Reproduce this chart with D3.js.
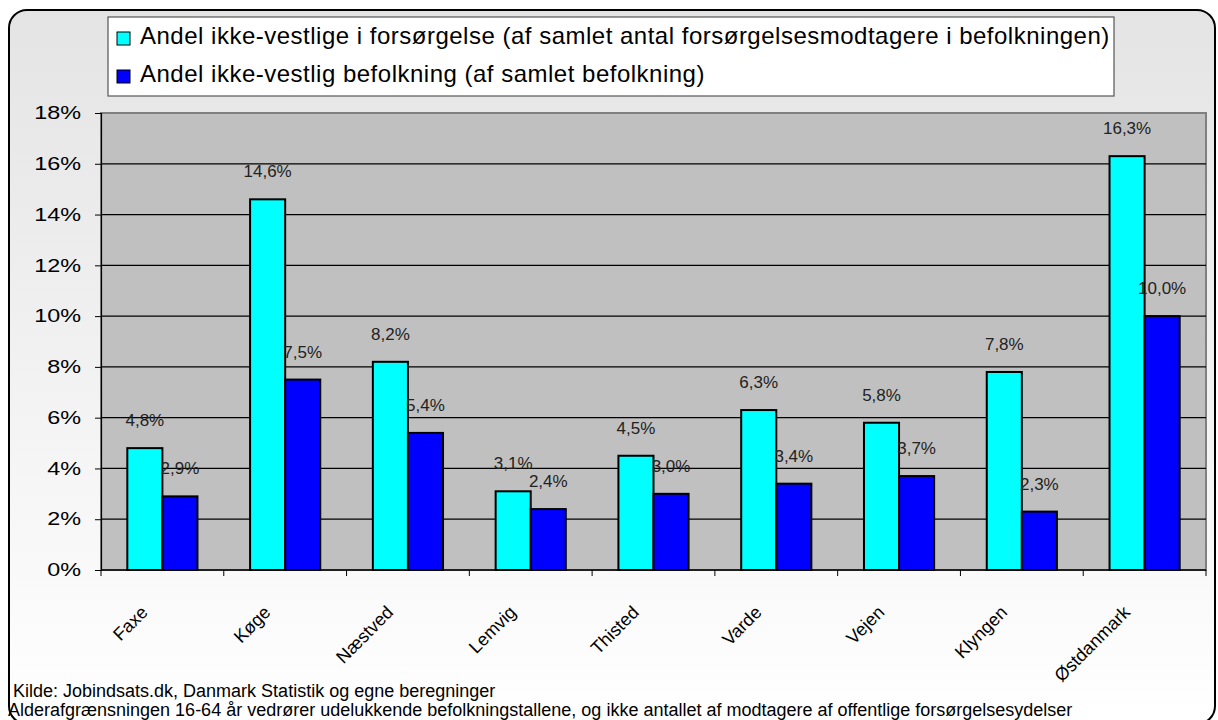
<!DOCTYPE html>
<html>
<head>
  <meta charset="utf-8">
  <script src="https://cdn.jsdelivr.net/npm/d3@7"></script>
  <style>
    body { margin: 0; background: #fff; }
    text { font-family: "Liberation Sans", Arial, sans-serif; }
  </style>
</head>
<body>
  <script>
    // størrelse
    const w = 1218;
    const h = 720;

    // data
    const kommuner = ["Faxe", "Køge", "Næstved", "Lemvig", "Thisted", "Varde", "Vejen", "Klyngen", "Østdanmark"];
    const forsorgelse = [4.8, 14.6, 8.2, 3.1, 4.5, 6.3, 5.8, 7.8, 16.3];
    const befolkning = [2.9, 7.5, 5.4, 2.4, 3.0, 3.4, 3.7, 2.3, 10.0];
    const serieNavne = [
      "Andel ikke-vestlige i forsørgelse (af samlet antal forsørgelsesmodtagere i befolkningen)",
      "Andel ikke-vestlig befolkning (af samlet befolkning)"
    ];
    const farver = ["#00ffff", "#0000ff"];
    const yTicks = [0, 2, 4, 6, 8, 10, 12, 14, 16, 18];
    const kilde = [
      "Kilde: Jobindsats.dk, Danmark Statistik og egne beregninger",
      "Alderafgrænsningen 16-64 år vedrører udelukkende befolkningstallene, og ikke antallet af modtagere af offentlige forsørgelsesydelser"
    ];

    // plotområde
    const plot = { left: 101, right: 1206, top: 113, bottom: 570 };

    const svg = d3.select("body").append("svg")
      .attr("width", w)
      .attr("height", h);

    // baggrund med gradient
    const grad = svg.append("defs").append("linearGradient")
      .attr("id", "bg").attr("x1", 0).attr("y1", 0).attr("x2", 0).attr("y2", 1);
    grad.append("stop").attr("offset", "0%").attr("stop-color", "#e4e4e4");
    grad.append("stop").attr("offset", "100%").attr("stop-color", "#ffffff");

    svg.append("rect")
      .attr("x", 9).attr("y", 10)
      .attr("width", 1206).attr("height", 714)
      .attr("rx", 18).attr("ry", 18)
      .attr("fill", "url(#bg)")
      .attr("stroke", "#000")
      .attr("stroke-width", 2);

    // skalaer
    const x0 = d3.scaleBand()
      .domain(kommuner)
      .range([plot.left, plot.right])
      .paddingInner(0.4286)
      .paddingOuter(0.2143);

    const x1 = d3.scaleBand()
      .domain([0, 1])
      .range([0, x0.bandwidth()]);

    const yScale = d3.scaleLinear()
      .domain([0, 18])
      .range([plot.bottom, plot.top]);

    // plotområde
    svg.append("rect")
      .attr("x", plot.left).attr("y", plot.top)
      .attr("width", plot.right - plot.left)
      .attr("height", plot.bottom - plot.top)
      .attr("fill", "#c0c0c0")
      .attr("stroke", "#808080")
      .attr("stroke-width", 2);

    // gitterlinjer
    svg.append("g").selectAll("line")
      .data(yTicks.filter(d => d > 0 && d < 18))
      .enter()
      .append("line")
      .attr("x1", plot.left).attr("x2", plot.right)
      .attr("y1", d => yScale(d)).attr("y2", d => yScale(d))
      .attr("stroke", "#000")
      .attr("stroke-width", 1.2);

    // y-akse
    const yAxis = d3.axisLeft(yScale)
      .tickValues(yTicks)
      .tickSize(6)
      .tickPadding(14)
      .tickFormat(d => d + "%");
    const gy = svg.append("g")
      .attr("transform", `translate(${plot.left},0)`)
      .call(yAxis);
    gy.select(".domain").attr("stroke", "#000").attr("stroke-width", 1.2);
    gy.selectAll(".tick line").attr("stroke", "#000");
    // teksten er lidt bredere i originalen
    gy.selectAll(".tick text")
      .attr("font-size", 18)
      .attr("fill", "#000")
      .attr("x", -20 / 1.3)
      .attr("transform", "scale(1.3,1)")
      .style("font-family", "'Liberation Sans', Arial, sans-serif");

    // x-akse
    const bounds = kommuner.map(k => x0(k) - x0.step() * x0.paddingInner() / 2);
    bounds.push(plot.right);
    svg.append("line")
      .attr("x1", plot.left).attr("x2", plot.right)
      .attr("y1", plot.bottom).attr("y2", plot.bottom)
      .attr("stroke", "#000").attr("stroke-width", 1.5);
    svg.append("g").selectAll("line")
      .data(bounds)
      .enter()
      .append("line")
      .attr("x1", d => d).attr("x2", d => d)
      .attr("y1", plot.bottom).attr("y2", plot.bottom + 6)
      .attr("stroke", "#000");

    svg.append("g").selectAll("text")
      .data(kommuner)
      .enter()
      .append("text")
      .attr("transform", d => `translate(${x0(d) + x0.bandwidth() / 2 - 18},${plot.bottom + 39}) rotate(-45)`)
      .attr("text-anchor", "end")
      .attr("font-size", 18)
      .attr("fill", "#000")
      .attr("dy", "0.35em")
      .text(d => d);

    // søjler
    const serier = [forsorgelse, befolkning];
    const grupper = svg.append("g").selectAll("g")
      .data(kommuner)
      .enter()
      .append("g")
      .attr("transform", d => `translate(${x0(d)},0)`);

    grupper.selectAll("rect")
      .data((d, i) => serier.map((s, j) => ({ serie: j, value: s[i] })))
      .enter()
      .append("rect")
      .attr("x", d => x1(d.serie))
      .attr("y", d => yScale(d.value))
      .attr("width", x1.bandwidth())
      .attr("height", d => yScale(0) - yScale(d.value))
      .attr("fill", d => farver[d.serie])
      .attr("stroke", "#000")
      .attr("stroke-width", 2);

    grupper.selectAll("text")
      .data((d, i) => serier.map((s, j) => ({ serie: j, value: s[i] })))
      .enter()
      .append("text")
      .attr("x", d => x1(d.serie) + x1.bandwidth() / 2)
      .attr("y", d => yScale(d.value) - 22)
      .attr("text-anchor", "middle")
      .attr("font-size", 17)
      .attr("fill", "#222")
      .text(d => d.value.toFixed(1).replace(".", ",") + "%");

    // forklaring
    svg.append("rect")
      .attr("x", 108).attr("y", 17)
      .attr("width", 1006).attr("height", 79)
      .attr("fill", "#fff")
      .attr("stroke", "#555")
      .attr("stroke-width", 1.2);

    const legend = svg.append("g").selectAll("g")
      .data(serieNavne)
      .enter()
      .append("g")
      .attr("transform", (d, i) => `translate(117,${44 + i * 38})`);
    legend.append("rect")
      .attr("x", 0).attr("y", -12)
      .attr("width", 13).attr("height", 13)
      .attr("fill", (d, i) => farver[i])
      .attr("stroke", "#000");
    legend.append("text")
      .attr("x", 23)
      .attr("font-size", 24)
      .attr("letter-spacing", 0.5)
      .attr("fill", "#000")
      .text(d => d);

    // kilde
    svg.append("g").selectAll("text")
      .data(kilde)
      .enter()
      .append("text")
      .attr("x", (d, i) => i === 0 ? 13 : 8)
      .attr("y", (d, i) => 697 + i * 19)
      .attr("font-size", 18)
      .attr("fill", "#000")
      .text(d => d);
  </script>
</body>
</html>
